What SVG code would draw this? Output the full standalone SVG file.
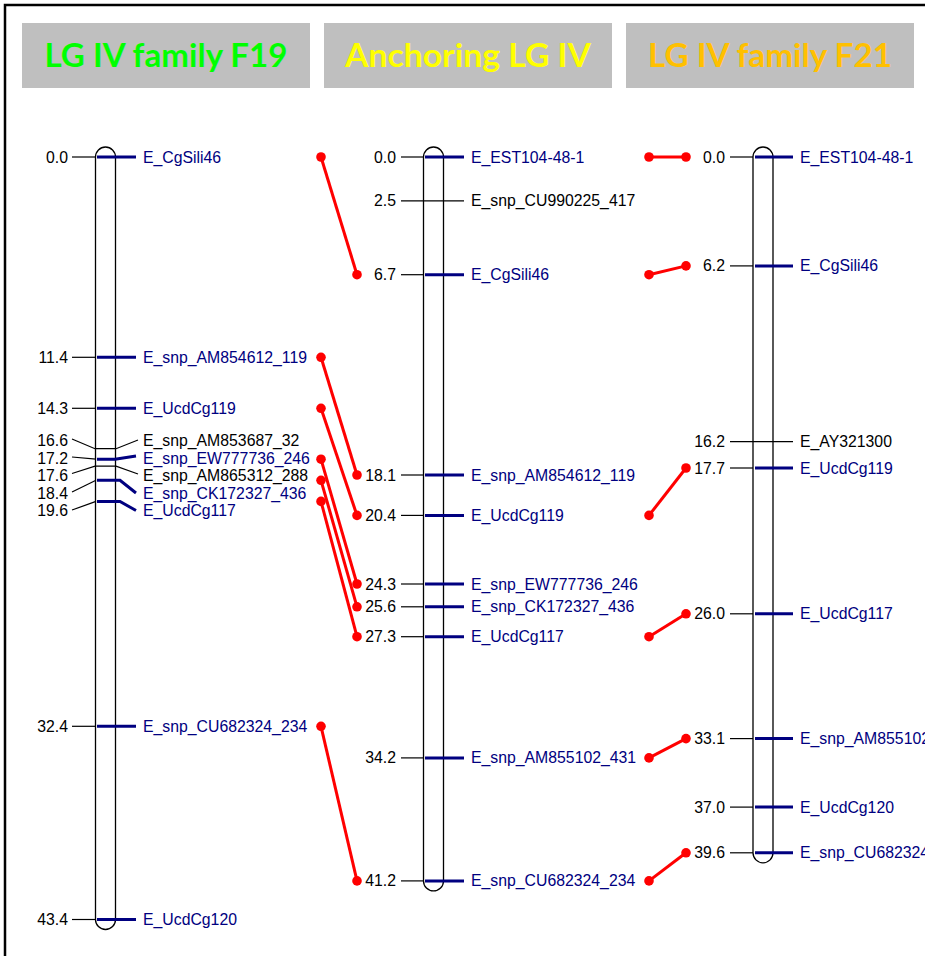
<svg xmlns="http://www.w3.org/2000/svg" width="925" height="956" viewBox="0 0 925 956">
<style>
.hdr{fill:#BFBFBF}
.ht{font-family:Lato,"Open Sans",sans-serif;font-weight:bold;font-size:33px;text-anchor:middle}
.bar{fill:#fff;stroke:#000;stroke-width:1.3}
.tk{stroke:#000;stroke-width:1.2;fill:none}
.nv{stroke:#000080;stroke-width:3;fill:none}
.num{font-family:"Liberation Sans",Arial,sans-serif;font-size:15.8px;fill:#000;text-anchor:end}
.lb{font-family:"Liberation Sans",Arial,sans-serif;font-size:15.8px;fill:#000080}
.lk{font-family:"Liberation Sans",Arial,sans-serif;font-size:15.8px;fill:#000}
.rl{stroke:#FF0000;stroke-width:3;fill:none}
.dt{fill:#FF0000}
</style>
<rect x="0" y="0" width="925" height="956" fill="#fff"/>
<rect x="5" y="5" width="940" height="980" fill="none" stroke="#000" stroke-width="2.5"/>

<g id="header-f19"><rect class="hdr" x="22" y="23" width="288" height="65"/><text class="ht" x="166" y="67" fill="#00FF00" textLength="243" lengthAdjust="spacingAndGlyphs">LG IV family F19</text></g>
<g id="header-anchor"><rect class="hdr" x="324" y="23" width="288" height="65"/><text class="ht" x="468" y="67" fill="#FFFF00" textLength="246" lengthAdjust="spacingAndGlyphs">Anchoring LG IV</text></g>
<g id="header-f21"><rect class="hdr" x="626" y="23" width="288" height="65"/><text class="ht" x="770" y="67" fill="#FFC000" textLength="244" lengthAdjust="spacingAndGlyphs">LG IV family F21</text></g>

<g id="chr-f19">
<rect class="bar" x="95.5" y="147" width="20" height="782.5" rx="10" ry="10"/>
<g id="f19-CgSili46"><line class="tk" x1="72" y1="157" x2="96" y2="157"/><line class="nv" x1="97" y1="157" x2="136" y2="157"/><text class="num" x="68" y="162.5">0.0</text><text class="lb" x="143" y="162.5">E_CgSili46</text></g>
<g id="f19-AM854612"><line class="tk" x1="72" y1="357.3" x2="96" y2="357.3"/><line class="nv" x1="97" y1="357.3" x2="136" y2="357.3"/><text class="num" x="68" y="362.8">11.4</text><text class="lb" x="143" y="362.8">E_snp_AM854612_119</text></g>
<g id="f19-UcdCg119"><line class="tk" x1="72" y1="408.3" x2="96" y2="408.3"/><line class="nv" x1="97" y1="408.3" x2="136" y2="408.3"/><text class="num" x="68" y="413.8">14.3</text><text class="lb" x="143" y="413.8">E_UcdCg119</text></g>
<g id="f19-AM853687"><polyline class="tk" points="72,439 95,448.7 116,448.7 138,440"/><text class="num" x="68" y="446">16.6</text><text class="lk" x="143" y="446">E_snp_AM853687_32</text></g>
<g id="f19-EW777736"><polyline class="tk" points="72,457 96,459.2"/><polyline class="nv" points="97,459.2 115,459.2 136,456"/><text class="num" x="68" y="463.5">17.2</text><text class="lb" x="143" y="463.5">E_snp_EW777736_246</text></g>
<g id="f19-AM865312"><polyline class="tk" points="72,473.5 95,466.2 116,466.2 138,474"/><text class="num" x="68" y="481">17.6</text><text class="lk" x="143" y="481">E_snp_AM865312_288</text></g>
<g id="f19-CK172327"><polyline class="tk" points="72,492 96,480.3"/><polyline class="nv" points="97,480.3 120,480.3 136,493"/><text class="num" x="68" y="498.5">18.4</text><text class="lb" x="143" y="498.5">E_snp_CK172327_436</text></g>
<g id="f19-UcdCg117"><polyline class="tk" points="72,510 96,501.4"/><polyline class="nv" points="97,501.4 120,501.4 136,510.5"/><text class="num" x="68" y="516">19.6</text><text class="lb" x="143" y="516">E_UcdCg117</text></g>
<g id="f19-CU682324"><line class="tk" x1="72" y1="726.3" x2="96" y2="726.3"/><line class="nv" x1="97" y1="726.3" x2="136" y2="726.3"/><text class="num" x="68" y="731.8">32.4</text><text class="lb" x="143" y="731.8">E_snp_CU682324_234</text></g>
<g id="f19-UcdCg120"><line class="tk" x1="72" y1="919.5" x2="96" y2="919.5"/><line class="nv" x1="97" y1="919.5" x2="136" y2="919.5"/><text class="num" x="68" y="925">43.4</text><text class="lb" x="143" y="925">E_UcdCg120</text></g>
</g>

<g id="chr-anchor">
<rect class="bar" x="423.5" y="147" width="20" height="743.9" rx="10" ry="10"/>
<g id="a-EST104"><line class="tk" x1="401" y1="157" x2="424" y2="157"/><line class="nv" x1="425" y1="157" x2="464" y2="157"/><text class="num" x="396" y="162.5">0.0</text><text class="lb" x="471" y="162.5">E_EST104-48-1</text></g>
<g id="a-CU990225"><line class="tk" x1="401" y1="200.9" x2="464" y2="200.9"/><text class="num" x="396" y="206.4">2.5</text><text class="lk" x="471" y="206.4">E_snp_CU990225_417</text></g>
<g id="a-CgSili46"><line class="tk" x1="401" y1="274.7" x2="424" y2="274.7"/><line class="nv" x1="425" y1="274.7" x2="464" y2="274.7"/><text class="num" x="396" y="280.2">6.7</text><text class="lb" x="471" y="280.2">E_CgSili46</text></g>
<g id="a-AM854612"><line class="tk" x1="401" y1="475" x2="424" y2="475"/><line class="nv" x1="425" y1="475" x2="464" y2="475"/><text class="num" x="396" y="480.5">18.1</text><text class="lb" x="471" y="480.5">E_snp_AM854612_119</text></g>
<g id="a-UcdCg119"><line class="tk" x1="401" y1="515.4" x2="424" y2="515.4"/><line class="nv" x1="425" y1="515.4" x2="464" y2="515.4"/><text class="num" x="396" y="520.9">20.4</text><text class="lb" x="471" y="520.9">E_UcdCg119</text></g>
<g id="a-EW777736"><line class="tk" x1="401" y1="584" x2="424" y2="584"/><line class="nv" x1="425" y1="584" x2="464" y2="584"/><text class="num" x="396" y="589.5">24.3</text><text class="lb" x="471" y="589.5">E_snp_EW777736_246</text></g>
<g id="a-CK172327"><line class="tk" x1="401" y1="606.8" x2="424" y2="606.8"/><line class="nv" x1="425" y1="606.8" x2="464" y2="606.8"/><text class="num" x="396" y="612.3">25.6</text><text class="lb" x="471" y="612.3">E_snp_CK172327_436</text></g>
<g id="a-UcdCg117"><line class="tk" x1="401" y1="636.7" x2="424" y2="636.7"/><line class="nv" x1="425" y1="636.7" x2="464" y2="636.7"/><text class="num" x="396" y="642.2">27.3</text><text class="lb" x="471" y="642.2">E_UcdCg117</text></g>
<g id="a-AM855102"><line class="tk" x1="401" y1="757.9" x2="424" y2="757.9"/><line class="nv" x1="425" y1="757.9" x2="464" y2="757.9"/><text class="num" x="396" y="763.4">34.2</text><text class="lb" x="471" y="763.4">E_snp_AM855102_431</text></g>
<g id="a-CU682324"><line class="tk" x1="401" y1="880.9" x2="424" y2="880.9"/><line class="nv" x1="425" y1="880.9" x2="464" y2="880.9"/><text class="num" x="396" y="886.4">41.2</text><text class="lb" x="471" y="886.4">E_snp_CU682324_234</text></g>
</g>

<g id="chr-f21">
<rect class="bar" x="753" y="147" width="20" height="715.8" rx="10" ry="10"/>
<g id="f21-EST104"><line class="tk" x1="730" y1="157" x2="753" y2="157"/><line class="nv" x1="755" y1="157" x2="793" y2="157"/><text class="num" x="725" y="162.5">0.0</text><text class="lb" x="800" y="162.5">E_EST104-48-1</text></g>
<g id="f21-CgSili46"><line class="tk" x1="730" y1="265.9" x2="753" y2="265.9"/><line class="nv" x1="755" y1="265.9" x2="793" y2="265.9"/><text class="num" x="725" y="271.4">6.2</text><text class="lb" x="800" y="271.4">E_CgSili46</text></g>
<g id="f21-AY321300"><line class="tk" x1="730" y1="441.6" x2="793" y2="441.6"/><text class="num" x="725" y="447.1">16.2</text><text class="lk" x="800" y="447.1">E_AY321300</text></g>
<g id="f21-UcdCg119"><line class="tk" x1="730" y1="468" x2="753" y2="468"/><line class="nv" x1="755" y1="468" x2="793" y2="468"/><text class="num" x="725" y="473.5">17.7</text><text class="lb" x="800" y="473.5">E_UcdCg119</text></g>
<g id="f21-UcdCg117"><line class="tk" x1="730" y1="613.8" x2="753" y2="613.8"/><line class="nv" x1="755" y1="613.8" x2="793" y2="613.8"/><text class="num" x="725" y="619.3">26.0</text><text class="lb" x="800" y="619.3">E_UcdCg117</text></g>
<g id="f21-AM855102"><line class="tk" x1="730" y1="738.6" x2="753" y2="738.6"/><line class="nv" x1="755" y1="738.6" x2="793" y2="738.6"/><text class="num" x="725" y="744.1">33.1</text><text class="lb" x="800" y="744.1">E_snp_AM855102_431</text></g>
<g id="f21-UcdCg120"><line class="tk" x1="730" y1="807.1" x2="753" y2="807.1"/><line class="nv" x1="755" y1="807.1" x2="793" y2="807.1"/><text class="num" x="725" y="812.6">37.0</text><text class="lb" x="800" y="812.6">E_UcdCg120</text></g>
<g id="f21-CU682324"><line class="tk" x1="730" y1="852.8" x2="753" y2="852.8"/><line class="nv" x1="755" y1="852.8" x2="793" y2="852.8"/><text class="num" x="725" y="858.3">39.6</text><text class="lb" x="800" y="858.3">E_snp_CU682324_234</text></g>
</g>

<g id="connectors">
<line class="rl" x1="321" y1="157" x2="357" y2="274.7"/><circle class="dt" cx="321" cy="157" r="4.8"/><circle class="dt" cx="357" cy="274.7" r="4.8"/>
<line class="rl" x1="321" y1="357.3" x2="357" y2="475"/><circle class="dt" cx="321" cy="357.3" r="4.8"/><circle class="dt" cx="357" cy="475" r="4.8"/>
<line class="rl" x1="321" y1="408.3" x2="357" y2="515.4"/><circle class="dt" cx="321" cy="408.3" r="4.8"/><circle class="dt" cx="357" cy="515.4" r="4.8"/>
<line class="rl" x1="321" y1="459.2" x2="357" y2="584"/><circle class="dt" cx="321" cy="459.2" r="4.8"/><circle class="dt" cx="357" cy="584" r="4.8"/>
<line class="rl" x1="321" y1="480.3" x2="357" y2="606.8"/><circle class="dt" cx="321" cy="480.3" r="4.8"/><circle class="dt" cx="357" cy="606.8" r="4.8"/>
<line class="rl" x1="321" y1="501.4" x2="357" y2="636.7"/><circle class="dt" cx="321" cy="501.4" r="4.8"/><circle class="dt" cx="357" cy="636.7" r="4.8"/>
<line class="rl" x1="321" y1="726.3" x2="357" y2="880.9"/><circle class="dt" cx="321" cy="726.3" r="4.8"/><circle class="dt" cx="357" cy="880.9" r="4.8"/>
<line class="rl" x1="649" y1="157" x2="686" y2="157"/><circle class="dt" cx="649" cy="157" r="4.8"/><circle class="dt" cx="686" cy="157" r="4.8"/>
<line class="rl" x1="649" y1="274.7" x2="686" y2="265.9"/><circle class="dt" cx="649" cy="274.7" r="4.8"/><circle class="dt" cx="686" cy="265.9" r="4.8"/>
<line class="rl" x1="649" y1="515.4" x2="686" y2="468"/><circle class="dt" cx="649" cy="515.4" r="4.8"/><circle class="dt" cx="686" cy="468" r="4.8"/>
<line class="rl" x1="649" y1="636.7" x2="686" y2="613.8"/><circle class="dt" cx="649" cy="636.7" r="4.8"/><circle class="dt" cx="686" cy="613.8" r="4.8"/>
<line class="rl" x1="649" y1="757.9" x2="686" y2="738.6"/><circle class="dt" cx="649" cy="757.9" r="4.8"/><circle class="dt" cx="686" cy="738.6" r="4.8"/>
<line class="rl" x1="649" y1="880.9" x2="686" y2="852.8"/><circle class="dt" cx="649" cy="880.9" r="4.8"/><circle class="dt" cx="686" cy="852.8" r="4.8"/>
</g>
</svg>
